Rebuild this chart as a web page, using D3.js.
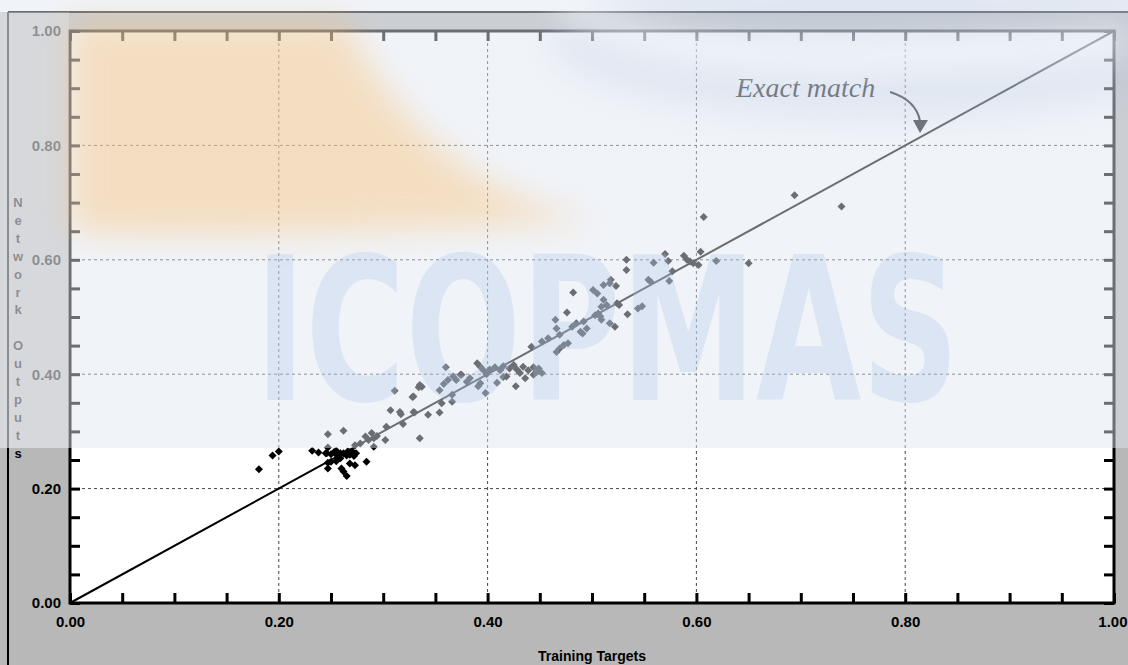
<!DOCTYPE html>
<html>
<head>
<meta charset="utf-8">
<script src="https://cdn.jsdelivr.net/npm/d3@7"></script>
<style>
body { margin: 0; background: #b8b8b8; }
svg { display: block; }
.lbl { font-family: "Liberation Sans", Arial, sans-serif; font-weight: bold; }
</style>
</head>
<body>
<div id="chart-area"></div>
<script>
// Data (training target vs network output)
var targets = [
    0.181, 0.194, 0.200, 0.232, 0.238, 0.246, 0.247, 0.247, 0.250, 0.253,
    0.256, 0.259, 0.259, 0.260, 0.262, 0.265, 0.265, 0.266, 0.268, 0.268,
    0.270, 0.272, 0.273, 0.274, 0.284, 0.262, 0.255, 0.245, 0.255, 0.267,
    0.271, 0.250,
    0.247, 0.262, 0.247, 0.273, 0.278, 0.283, 0.286, 0.289, 0.291, 0.294,
    0.291, 0.303, 0.302, 0.307, 0.311, 0.317, 0.319, 0.328, 0.330, 0.334,
    0.337, 0.335, 0.343, 0.354, 0.356, 0.354, 0.358, 0.360, 0.362, 0.366,
    0.367, 0.370, 0.375, 0.380, 0.383, 0.390, 0.391, 0.393, 0.396, 0.398,
    0.399, 0.402, 0.407, 0.412, 0.415, 0.418, 0.421, 0.425, 0.428, 0.431,
    0.434, 0.436, 0.439, 0.444, 0.447, 0.449, 0.452, 0.409, 0.415, 0.427,
    0.444, 0.316, 0.329, 0.335, 0.366, 0.393, 0.374, 0.329,
    0.442, 0.452, 0.458, 0.465, 0.466, 0.469, 0.473, 0.477, 0.466, 0.469,
    0.476, 0.481, 0.482, 0.485, 0.489, 0.492, 0.495, 0.491, 0.501, 0.505,
    0.506, 0.509, 0.511, 0.514, 0.517, 0.511, 0.517, 0.522, 0.524, 0.503,
    0.508, 0.509, 0.518, 0.523, 0.526, 0.533, 0.533, 0.534, 0.544, 0.548,
    0.554, 0.556, 0.559, 0.570, 0.573, 0.574, 0.577, 0.588, 0.591, 0.594,
    0.597, 0.602, 0.604, 0.607, 0.619, 0.650, 0.694, 0.739
];
var outputs = [
    0.234, 0.258, 0.265, 0.266, 0.263, 0.262, 0.235, 0.245, 0.260, 0.264,
    0.258, 0.262, 0.253, 0.235, 0.262, 0.258, 0.222, 0.265, 0.244, 0.259,
    0.263, 0.257, 0.241, 0.262, 0.247, 0.230, 0.248, 0.262, 0.266, 0.264,
    0.264, 0.247,
    0.295, 0.301, 0.272, 0.276, 0.279, 0.291, 0.285, 0.297, 0.288, 0.292,
    0.273, 0.308, 0.285, 0.337, 0.371, 0.330, 0.313, 0.360, 0.333, 0.377,
    0.378, 0.288, 0.329, 0.372, 0.349, 0.333, 0.383, 0.412, 0.390, 0.352,
    0.396, 0.390, 0.399, 0.387, 0.393, 0.419, 0.379, 0.413, 0.407, 0.367,
    0.400, 0.408, 0.412, 0.407, 0.414, 0.396, 0.410, 0.416, 0.408, 0.402,
    0.413, 0.393, 0.407, 0.412, 0.404, 0.410, 0.402, 0.385, 0.395, 0.379,
    0.399, 0.334, 0.361, 0.381, 0.364, 0.384, 0.399, 0.334,
    0.448, 0.457, 0.463, 0.495, 0.439, 0.445, 0.451, 0.454, 0.480, 0.469,
    0.508, 0.483, 0.543, 0.489, 0.474, 0.492, 0.480, 0.471, 0.547, 0.541,
    0.506, 0.495, 0.530, 0.521, 0.489, 0.556, 0.559, 0.483, 0.524, 0.503,
    0.501, 0.518, 0.565, 0.554, 0.521, 0.600, 0.582, 0.505, 0.515, 0.519,
    0.565, 0.562, 0.595, 0.610, 0.598, 0.563, 0.580, 0.607, 0.600, 0.597,
    0.594, 0.591, 0.614, 0.675, 0.598, 0.594, 0.713, 0.693
];
var tickValues = [0, 0.05, 0.10, 0.15, 0.20, 0.25, 0.30, 0.35, 0.40, 0.45, 0.50,
    0.55, 0.60, 0.65, 0.70, 0.75, 0.80, 0.85, 0.90, 0.95, 1.00];
var labelValues = [0, 0.20, 0.40, 0.60, 0.80, 1.00];
var gridValues = [0.20, 0.40, 0.60, 0.80];
var exactLine = [0, 1];
var xTitle = "Training Targets";
var yTitle = "Network Outputs";
var noteText = "Exact match";
var watermarkText = "ICOPMAS";

var margin = { left: 70, right: 14, top: 31, bottom: 62 };
var W = 1128, H = 665;
var width = W - margin.left - margin.right,
    height = H - margin.top - margin.bottom;

var svg = d3.select("#chart-area")
    .append("svg")
        .attr("width", W)
        .attr("height", H);

var defs = svg.append("defs");
defs.append("clipPath").attr("id", "topClip")
    .append("rect").attr("x", 0).attr("y", 0).attr("width", W).attr("height", 448);
defs.append("filter").attr("id", "blur").attr("x", "-50%").attr("y", "-50%")
    .attr("width", "200%").attr("height", "200%")
    .append("feGaussianBlur").attr("stdDeviation", 16);

// window background + frame
svg.append("rect").attr("width", W).attr("height", H).attr("fill", "#b8b8b8");
svg.append("rect").attr("width", W).attr("height", 12).attr("fill", "#ffffff");
svg.append("line").attr("x1", 8).attr("x2", W).attr("y1", 12).attr("y2", 12)
    .attr("stroke", "#000").attr("stroke-width", 2);
svg.append("line").attr("x1", 8).attr("x2", 8).attr("y1", 12).attr("y2", H)
    .attr("stroke", "#000").attr("stroke-width", 2);

var g = svg.append("g")
    .attr("transform", "translate(" + margin.left + "," + margin.top + ")");

// Scales
var x = d3.scaleLinear().domain([0, 1]).range([0, width]);
var y = d3.scaleLinear().domain([0, 1]).range([height, 0]);

g.append("rect").attr("width", width).attr("height", height).attr("fill", "#ffffff");

// Grid lines
g.selectAll(".vgrid").data(gridValues).enter().append("line")
    .attr("x1", function(d){ return x(d); }).attr("x2", function(d){ return x(d); })
    .attr("y1", 0).attr("y2", height)
    .attr("stroke", "#444").attr("stroke-dasharray", "3,3");
g.selectAll(".hgrid").data(gridValues).enter().append("line")
    .attr("y1", function(d){ return y(d); }).attr("y2", function(d){ return y(d); })
    .attr("x1", 0).attr("x2", width)
    .attr("stroke", "#444").attr("stroke-dasharray", "3,3");

// Inward ticks on all four sides
function tickAxis(axis, tx, ty) {
    var a = g.append("g")
        .attr("transform", "translate(" + tx + "," + ty + ")")
        .call(axis.tickValues(tickValues).tickSize(-10).tickFormat(""));
    a.select(".domain").remove();
    a.selectAll("line").attr("stroke", "#000").attr("stroke-width", 3);
}
tickAxis(d3.axisBottom(x), 0, height);
tickAxis(d3.axisTop(x), 0, 0);
tickAxis(d3.axisLeft(y), 0, 0);
tickAxis(d3.axisRight(y), width, 0);

// Tick labels
var xLab = g.append("g")
    .attr("transform", "translate(0," + height + ")")
    .call(d3.axisBottom(x).tickValues(labelValues).tickSize(0).tickPadding(13)
        .tickFormat(d3.format(".2f")));
var yLab = g.append("g")
    .call(d3.axisLeft(y).tickValues(labelValues).tickSize(0).tickPadding(9)
        .tickFormat(d3.format(".2f")));
[xLab, yLab].forEach(function(a){
    a.select(".domain").remove();
    a.selectAll("text").attr("class", "lbl").attr("font-size", "15px").attr("fill", "#000");
});
// last x label sits against the window edge
xLab.selectAll("text").filter(function(d){ return d === 1; })
    .attr("text-anchor", "end").attr("x", 13);

// Frame of the plot
g.append("rect").attr("width", width).attr("height", height)
    .attr("fill", "none").attr("stroke", "#000").attr("stroke-width", 3);

// Exact match line
var line = d3.line()
    .x(function(d){ return x(d); })
    .y(function(d){ return y(d); });
g.append("path").datum(exactLine)
    .attr("d", line)
    .attr("fill", "none").attr("stroke", "#000").attr("stroke-width", 2);

// Points (diamonds)
var r = 4;
g.selectAll(".pt").data(targets).enter().append("path")
    .attr("class", "pt")
    .attr("transform", function(d, i){ return "translate(" + x(d) + "," + y(outputs[i]) + ")"; })
    .attr("d", "M0," + (-r) + "L" + r + ",0L0," + r + "L" + (-r) + ",0Z")
    .attr("fill", "#000");

// Annotation
g.append("text")
    .attr("x", 736 - margin.left).attr("y", 97 - margin.top)
    .attr("font-family", "'Liberation Serif', 'Times New Roman', serif")
    .attr("font-style", "italic").attr("font-size", "28px").attr("fill", "#000")
    .text(noteText);
svg.append("path")
    .attr("d", "M890,92 Q916,100 920,121")
    .attr("fill", "none").attr("stroke", "#000").attr("stroke-width", 2);
svg.append("path")
    .attr("d", "M913,120 L928,120 L920,133 Z")
    .attr("fill", "#000");

// Axis titles
svg.append("text").attr("class", "lbl")
    .attr("x", margin.left + width / 2).attr("y", 661)
    .attr("text-anchor", "middle").attr("font-size", "14px")
    .text(xTitle);
var yt = svg.append("text").attr("class", "lbl")
    .attr("text-anchor", "middle").attr("font-size", "13px");
yTitle.split("").forEach(function(c, i){
    yt.append("tspan").attr("x", 18).attr("y", 207 + i * 17.9).text(c === " " ? "\u00a0" : c);
});

// Watermark veil over the upper part of the picture
var wm = svg.append("g").attr("clip-path", "url(#topClip)");
wm.append("rect").attr("width", W).attr("height", 448)
    .attr("fill", "#e0e6f0").attr("opacity", 0.48);
wm.append("rect").attr("x", 0).attr("y", 12).attr("width", 69).attr("height", 436)
    .attr("fill", "#ffffff").attr("opacity", 0.22);
wm.append("path")
    .attr("d", "M70,232 C200,242 420,230 600,220 C480,200 400,130 345,20 L70,20 Z")
    .attr("fill", "#fbbd6a").attr("opacity", 0.38).attr("filter", "url(#blur)");
wm.append("ellipse").attr("cx", 880).attr("cy", 40).attr("rx", 330).attr("ry", 80)
    .attr("fill", "#9fb6d8").attr("opacity", 0.18).attr("filter", "url(#blur)");
wm.append("path")
    .attr("d", "M560,0 C650,60 800,70 1128,40")
    .attr("fill", "none").attr("stroke", "#ffffff").attr("stroke-width", 26)
    .attr("opacity", 0.6).attr("filter", "url(#blur)");
svg.append("text")
    .attr("transform", "translate(255,400) scale(0.68,1)")
    .attr("font-family", "'DejaVu Sans', sans-serif").attr("font-weight", "bold")
    .attr("font-size", "200px")
    .attr("fill", "#a8c4e8").attr("opacity", 0.28)
    .text(watermarkText);
</script>
</body>
</html>
